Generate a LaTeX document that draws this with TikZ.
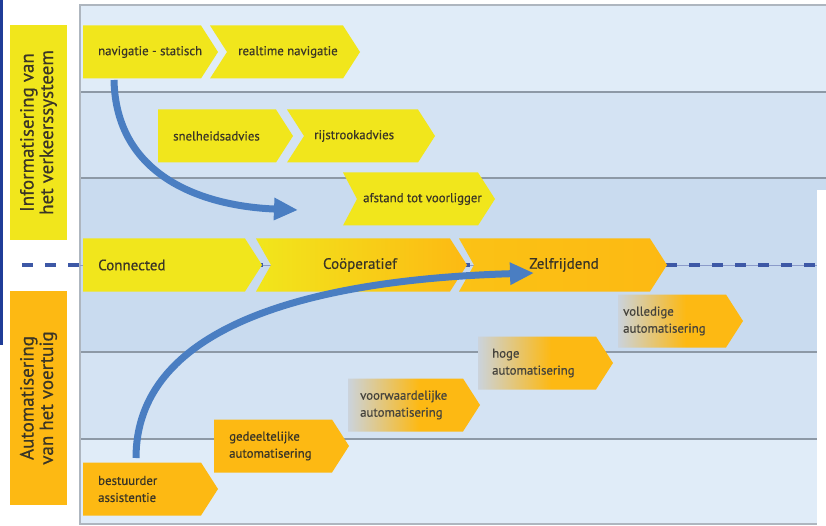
\documentclass[tikz,border=0pt]{standalone}
\usepackage{fontspec}
\setmainfont{PT Sans}[FakeBold=0.5]
\usetikzlibrary{arrows.meta}
\definecolor{yel}{HTML}{F1E61C}
\definecolor{orng}{HTML}{FDB913}
\definecolor{fadec}{HTML}{CBD3DC}
\definecolor{bandA}{HTML}{E0ECF8}
\definecolor{bandB}{HTML}{D4E3F3}
\definecolor{bandC}{HTML}{C9DBEF}
\definecolor{rowln}{HTML}{8D99A6}
\definecolor{framec}{HTML}{AEB6BF}
\definecolor{dashc}{HTML}{3D58A6}
\definecolor{arrc}{HTML}{4A7EC2}
\definecolor{txtc}{HTML}{3A3526}
\definecolor{txtg}{HTML}{45433C}
\definecolor{edgeb}{HTML}{1F3C98}
\pgfdeclarehorizontalshading{fadeor}{100bp}{color(0bp)=(fadec); color(25bp)=(fadec); color(52bp)=(orng); color(100bp)=(orng)}
\newcommand{\chev}[5]{\path[#5] (#1,#3-26.5) -- (#2-17,#3-26.5) -- (#2,#3) -- (#2-17,#3+26.5) -- (#1,#3+26.5) -- (#1+#4,#3) -- cycle;}
\tikzset{
  sm/.style={font=\fontsize{12.8}{17}\selectfont, text=txtc, inner sep=0, anchor=west, align=left},
  big/.style={font=\fontsize{15}{17}\selectfont, text=txtc, inner sep=0},
  side/.style={font=\fontsize{19}{19.5}\selectfont, text=txtc, rotate=90, align=center, inner sep=0},
  yfill/.style={fill=yel},
  ofill/.style={fill=orng},
  ffill/.style={shading=fadeor},
  rowline/.style={draw=rowln, line width=1.2pt},
  flow/.style={draw=arrc, line width=7pt, -{Triangle[length=24pt,width=21pt]}}
}
\begin{document}
\begin{tikzpicture}[x=1pt,y=-1pt]
\useasboundingbox (0,0) rectangle (826,526);
\fill[white] (0,0) rectangle (826,526);
\fill[edgeb] (0,0) rectangle (3,345);
% bands
\fill[bandA] (80,5) rectangle (826,92);
\fill[bandB] (80,92) rectangle (826,178);
\fill[bandC] (80,178) rectangle (826,352);
\fill[bandB] (80,352) rectangle (826,439);
\fill[bandA] (80,439) rectangle (826,524);
\fill[white] (817,190) rectangle (826,526);
\draw[rowline] (80,92) -- (826,92);
\draw[rowline] (80,178) -- (826,178);
\draw[rowline] (80,352) -- (817,352);
\draw[rowline] (80,439) -- (817,439);
\draw[draw=framec, line width=2pt] (826,5) -- (80,5) -- (80,524) -- (817,524);
% dashed axis
\draw[draw=dashc!60, line width=0.8pt] (80,265) -- (817,265);
\draw[draw=dashc, line width=3.5pt, dash pattern=on 11pt off 12pt] (22,265) -- (817,265);
% side labels
\fill[yel] (10,25) rectangle (67,240);
\node[side] (infolab) at (38.5,132.5) {Informatisering van\\het verkeerssysteem};
\fill[orng] (10,291) rectangle (67,505);
\node[side] (autolab) at (38.5,398) {Automatisering\\van het voertuig};
% top rows
\chev{83}{218}{52}{0}{yfill}
\node[sm] (nav) at (98,52) {navigatie - statisch};
\chev{210}{360}{52}{17}{yfill}
\node[sm] (rt) at (238,52) {realtime navigatie};
\chev{158}{293}{136}{0}{yfill}
\node[sm] (snel) at (173,136) {snelheidsadvies};
\chev{287}{435}{136}{17}{yfill}
\node[sm] (rijs) at (314,136) {rijstrookadvies};
\chev{343}{495}{199}{14}{yfill}
\node[sm] (afst) at (363,199) {afstand tot voorligger};
% middle row
\chev{83}{262}{265}{0}{yfill}
\node[big, anchor=west] (conn) at (98,265) {Connected};
\chev{256}{467}{265}{15}{left color=yel, right color=orng}
\node[big] (coop) at (360,265) {Coöperatief};
\chev{459}{667}{265}{15}{left color=orng!80!yel, right color=orng}
\node[big] (zelf) at (564,265) {Zelfrijdend};
% lower rows
\chev{618}{743}{321}{0}{ffill}
\node[sm, text=txtg] (voll) at (623,321) {volledige\\automatisering};
\chev{478}{613}{363}{0}{ffill}
\node[sm, text=txtg] (hoge) at (492,363) {hoge\\automatisering};
\chev{348}{480}{405}{0}{ffill}
\node[sm, text=txtg] (voor) at (360,405) {voorwaardelijke\\automatisering};
\chev{214}{349}{446}{0}{ofill}
\node[sm] (gede) at (229,446) {gedeeltelijke\\automatisering};
\chev{83}{218}{489}{0}{ofill}
\node[sm] (best) at (98,489) {bestuurder\\assistentie};
% flow arrows
\coordinate (a1s) at (114,80);
\coordinate (a1e) at (298,210);
\coordinate (a2s) at (136,458);
\coordinate (a2e) at (534,273);
\draw[flow] (a1s) .. controls (116,175) and (200,206) .. (a1e);
\draw[flow] (a2s) .. controls (136,330) and (300,280) .. (a2e);
\end{tikzpicture}
\end{document}
